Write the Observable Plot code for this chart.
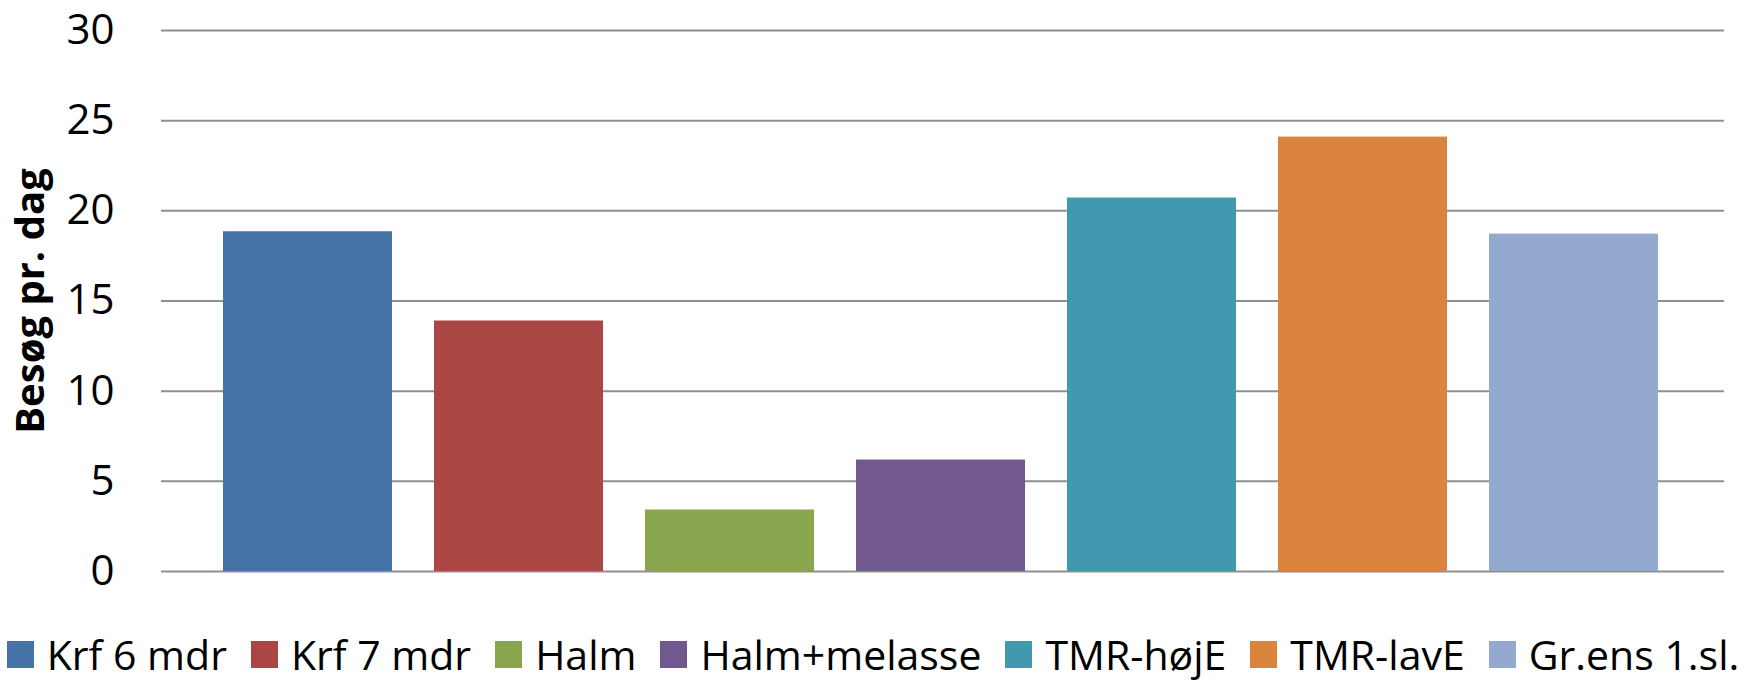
<!DOCTYPE html>
<html>
<head>
<meta charset="utf-8">
<script src="https://cdn.jsdelivr.net/npm/d3@7"></script>
<script src="https://cdn.jsdelivr.net/npm/@observablehq/plot@0.6"></script>
<style>
  html, body { margin: 0; padding: 0; background: #fff; }
  body { width: 1746px; height: 683px; overflow: hidden; font-family: "Open Sans", sans-serif; }
  #chart svg { display: block; }
  #legend { margin-top: 12px; font-family: "Open Sans", sans-serif; font-size: 41px; color: #000; }
  #legend > div { display: flex; justify-content: center; align-items: center; flex-wrap: nowrap; margin: 0; min-height: 0; font-size: 41px; font-family: "Open Sans", sans-serif; line-height: 44px; }
  #legend span { margin-right: 24px !important; margin-left: 0; white-space: nowrap; color: #000; }
  #legend span:last-child { margin-right: 0 !important; }
  #legend svg { margin-right: 13px !important; }
</style>
</head>
<body>
<div id="chart"></div>
<div id="legend"></div>
<script>
const categories = ["Krf 6 mdr", "Krf 7 mdr", "Halm", "Halm+melasse", "TMR-højE", "TMR-lavE", "Gr.ens 1.sl."];
const values = [18.84, 13.89, 3.41, 6.18, 20.71, 24.09, 18.71];
const colors = ["#4572A7", "#AA4643", "#89A54E", "#71588F", "#4198AF", "#DB843D", "#93A9CF"];
const yTicks = [0, 5, 10, 15, 20, 25, 30];
const yLabel = "Besøg pr. dag";

const data = categories.map((c, i) => ({category: c, value: values[i]}));

const plot = Plot.plot({
  width: 1746,
  height: 620,
  marginTop: 30,
  marginBottom: 49,
  marginLeft: 161,
  marginRight: 22,
  style: {fontFamily: "Open Sans, sans-serif", background: "#fff"},
  x: {type: "band", domain: categories, range: [202, 1679], paddingInner: 0.2, paddingOuter: 0.1, axis: null},
  y: {domain: [0, 30], ticks: yTicks, label: null},
  color: {type: "ordinal", domain: categories, range: colors},
  marks: [
    Plot.ruleY(yTicks, {stroke: "#8f8f8f", strokeWidth: 2}),
    Plot.barY(data, {x: "category", y: "value", fill: "category"}),
    Plot.axisY(yTicks, {tickSize: 0, tickPadding: 47, fontSize: 42, fill: "#000", label: null}),
    Plot.text([yLabel], {frameAnchor: "left", textAnchor: "middle", lineAnchor: "middle", rotate: -90, dx: -130, fontSize: 40, fontWeight: "bold", fill: "#000"})
  ]
});
document.getElementById("chart").appendChild(plot);

const legend = Plot.legend({
  color: {type: "ordinal", domain: categories, range: colors},
  legend: "swatches",
  swatchSize: 27,
  className: "lg"
});
document.getElementById("legend").appendChild(legend);
</script>
</body>
</html>
